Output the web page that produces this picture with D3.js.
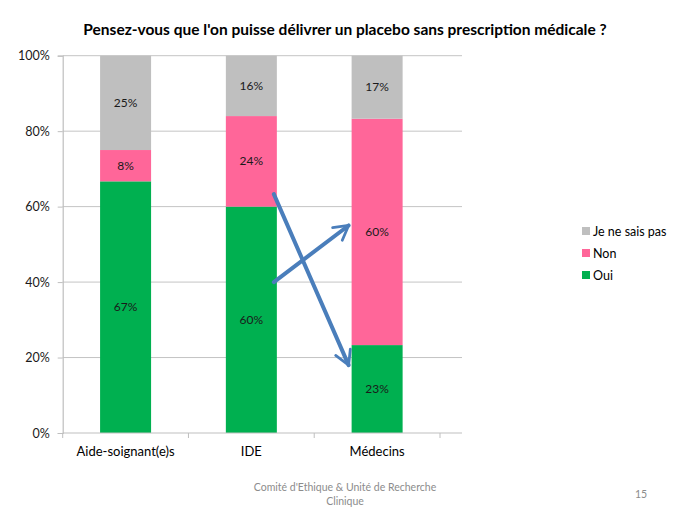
<!DOCTYPE html>
<html>
<head>
<meta charset="utf-8">
<script src="https://cdn.jsdelivr.net/npm/d3@7"></script>
<style>
  html, body { margin: 0; padding: 0; background: #fff; }
  svg { display: block; font-family: Lato, "Open Sans", sans-serif; }
</style>
</head>
<body>
<svg id="chart" width="689" height="517"></svg>
<script>
// --- data ---
const categories = ["Aide-soignant(e)s", "IDE", "Médecins"];
const seriesNames = ["Oui", "Non", "Je ne sais pas"];
const oui = [66.7, 60, 23.3];
const non = [8.3, 24, 60];
const jnsp = [25, 16, 16.7];
const labels = {
  "Oui": ["67%", "60%", "23%"],
  "Non": ["8%", "24%", "60%"],
  "Je ne sais pas": ["25%", "16%", "17%"],
};
const yTicks = [0, 20, 40, 60, 80, 100];
// annotation arrows, in data units: [category, side, value]
const arrows = [
  { from: ["IDE", "right", 40], to: ["Médecins", "left", 55] },
  { from: ["IDE", "right", 63.3], to: ["Médecins", "left", 18] },
];

const COLORS = {
  "Oui": "#00b050",
  "Non": "#ff6699",
  "Je ne sais pas": "#bfbfbf",
};

const svg = d3.select("#chart");
const plot = { left: 62.7, right: 440, top: 55.7, bottom: 433, gridRight: 462 };

const x = d3.scaleBand().domain(categories).range([plot.left, plot.right]).paddingInner(0).paddingOuter(0);
const barW = 51;
const y = d3.scaleLinear().domain([0, 100]).range([plot.bottom, plot.top]);

// title
svg.append("text")
  .attr("x", 345)
  .attr("y", 35)
  .attr("text-anchor", "middle")
  .attr("font-size", 15.5)
  .attr("font-weight", 700)
  .attr("fill", "#000")
  .text("Pensez-vous que l'on puisse délivrer un placebo sans prescription médicale ?");

// gridlines
svg.append("g")
  .selectAll("line")
  .data(yTicks.filter((d) => d > 0))
  .join("line")
  .attr("x1", plot.left)
  .attr("x2", plot.gridRight)
  .attr("y1", (d) => y(d))
  .attr("y2", (d) => y(d))
  .attr("stroke", "#c4c4c4")
  .attr("stroke-width", 1);

// stacked bars
const rows = categories.map((c, i) => ({ cat: c, "Oui": oui[i], "Non": non[i], "Je ne sais pas": jnsp[i] }));
const stack = d3.stack().keys(seriesNames)(rows);

const gBars = svg.append("g");
stack.forEach((layer) => {
  const key = layer.key;
  gBars.append("g")
    .selectAll("rect")
    .data(layer)
    .join("rect")
    .attr("x", (d) => x(d.data.cat) + x.bandwidth() / 2 - barW / 2)
    .attr("y", (d) => y(d[1]))
    .attr("width", barW)
    .attr("height", (d) => y(d[0]) - y(d[1]))
    .attr("fill", COLORS[key]);

  gBars.append("g")
    .selectAll("text")
    .data(layer)
    .join("text")
    .attr("x", (d) => x(d.data.cat) + x.bandwidth() / 2)
    .attr("y", (d) => (y(d[0]) + y(d[1])) / 2 + 4)
    .attr("text-anchor", "middle")
    .attr("font-size", 12)
    .attr("fill", "#1a1a1a")
    .text((d, i) => labels[key][i]);
});

// y axis
const yAxis = svg.append("g")
  .attr("transform", `translate(${plot.left},0)`)
  .call(d3.axisLeft(y).tickValues(yTicks).tickSize(5).tickPadding(8).tickFormat((d) => `${d}%`));
yAxis.select(".domain").attr("stroke", "#bfbfbf").attr("stroke-width", 1.2);
yAxis.selectAll(".tick line").attr("stroke", "#bfbfbf");
yAxis.selectAll("text").attr("font-size", 12.5).attr("fill", "#1a1a1a").attr("font-family", "Lato, sans-serif");

// x axis baseline + category ticks
svg.append("line")
  .attr("x1", plot.left).attr("x2", plot.gridRight)
  .attr("y1", plot.bottom).attr("y2", plot.bottom)
  .attr("stroke", "#bfbfbf").attr("stroke-width", 1.2);

const bounds = categories.map((c) => x(c)).concat([x(categories[categories.length - 1]) + x.bandwidth()]);
svg.append("g")
  .selectAll("line")
  .data(bounds)
  .join("line")
  .attr("x1", (d) => d).attr("x2", (d) => d)
  .attr("y1", plot.bottom).attr("y2", plot.bottom + 5)
  .attr("stroke", "#bfbfbf");

svg.append("g")
  .selectAll("text")
  .data(categories)
  .join("text")
  .attr("x", (d) => x(d) + x.bandwidth() / 2)
  .attr("y", 456)
  .attr("text-anchor", "middle")
  .attr("font-size", 13)
  .attr("fill", "#000")
  .text((d) => d);

// arrows
const defs = svg.append("defs");
defs.append("marker")
  .attr("id", "chev")
  .attr("viewBox", "0 0 10 10")
  .attr("refX", 8)
  .attr("refY", 5)
  .attr("markerWidth", 5)
  .attr("markerHeight", 5)
  .attr("orient", "auto")
  .attr("markerUnits", "strokeWidth")
  .append("path")
  .attr("d", "M1,1 L8,5 L1,9")
  .attr("fill", "none")
  .attr("stroke", "#4a7ebb")
  .attr("stroke-width", 1.4)
  .attr("stroke-linecap", "round")
  .attr("stroke-linejoin", "round");

function arrowX(cat, side) {
  const cx = x(cat) + x.bandwidth() / 2;
  return side === "right" ? cx + barW / 2 - 3 : cx - barW / 2 - 3;
}

svg.append("g")
  .selectAll("line")
  .data(arrows)
  .join("line")
  .attr("x1", (d) => arrowX(d.from[0], d.from[1]))
  .attr("y1", (d) => y(d.from[2]))
  .attr("x2", (d) => arrowX(d.to[0], d.to[1]))
  .attr("y2", (d) => y(d.to[2]))
  .attr("stroke", "#4a7ebb")
  .attr("stroke-width", 4)
  .attr("stroke-linecap", "round")
  .attr("marker-end", "url(#chev)");

// legend
const legendKeys = ["Je ne sais pas", "Non", "Oui"];
const legend = svg.append("g").attr("transform", "translate(582,231)");
legend.selectAll("rect")
  .data(legendKeys)
  .join("rect")
  .attr("x", 0)
  .attr("y", (d, i) => i * 22 - 4)
  .attr("width", 8)
  .attr("height", 8)
  .attr("fill", (d) => COLORS[d]);
legend.selectAll("text")
  .data(legendKeys)
  .join("text")
  .attr("x", 11)
  .attr("y", (d, i) => i * 22 + 4.5)
  .attr("font-size", 12.5)
  .attr("fill", "#000")
  .text((d) => d);

// footer
svg.append("text")
  .attr("x", 345).attr("y", 491)
  .attr("text-anchor", "middle")
  .attr("font-size", 10.5)
  .attr("fill", "#8c8c8c")
  .text("Comité d'Ethique & Unité de Recherche");
svg.append("text")
  .attr("x", 345).attr("y", 505)
  .attr("text-anchor", "middle")
  .attr("font-size", 10.5)
  .attr("fill", "#8c8c8c")
  .text("Clinique");
svg.append("text")
  .attr("x", 641).attr("y", 498)
  .attr("text-anchor", "middle")
  .attr("font-size", 10.5)
  .attr("fill", "#8c8c8c")
  .text("15");
</script>
</body>
</html>
